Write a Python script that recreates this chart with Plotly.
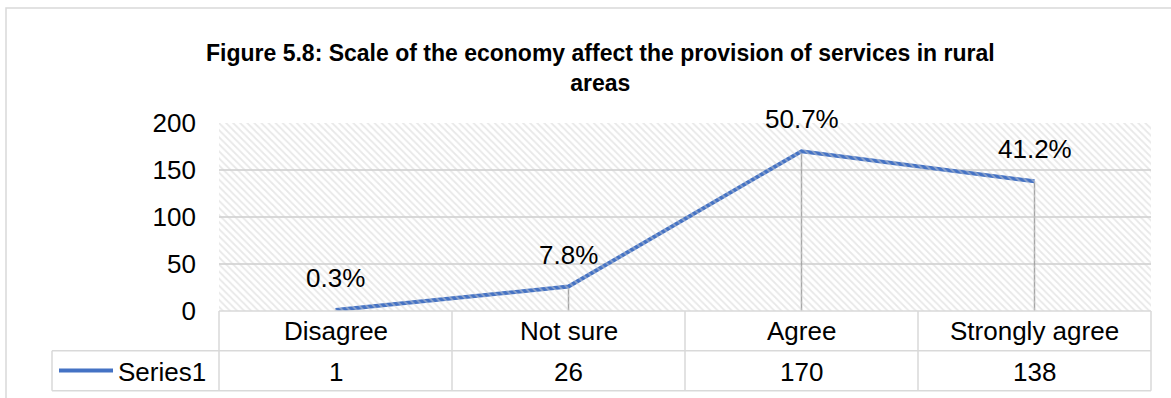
import plotly.graph_objects as go

# Survey responses
categories = ["Disagree", "Not sure", "Agree", "Strongly agree"]
counts = [1, 26, 170, 138]
percent_labels = ["0.3%", "7.8%", "50.7%", "41.2%"]
series_name = "Series1"
y_ticks = [0, 50, 100, 150, 200]
title_lines = ["Figure 5.8: Scale of the economy affect the provision of services in rural", "areas"]

W, H = 1171, 398
L, R, T, B = 219, 20, 123, 87
PW, PH = W - L - R, H - T - B


def px_x(px):
    return (px - L) / PW


def px_y(py):
    return (H - B - py) / PH


FONT = "Arial, Liberation Sans, sans-serif"
FS = 26
GRID = "#d9d9d9"
BLUE = "#4472C4"

fig = go.Figure()

# Hatched plot-area background
fig.add_trace(go.Scatter(
    x=[-0.5, 3.5, 3.5, -0.5, -0.5],
    y=[0, 0, 200, 200, 0],
    xaxis="x2", mode="lines", line=dict(width=0),
    fill="toself", fillcolor="rgba(0,0,0,0)",
    fillpattern=dict(shape="\\", fgcolor="#d2d2d2", bgcolor="rgba(0,0,0,0)",
                     size=5, solidity=0.35),
    hoverinfo="skip", showlegend=False,
))

# Drop lines from each point to the axis
drop_x, drop_y = [], []
for c, v in zip(categories, counts):
    drop_x += [c, c, None]
    drop_y += [0, v, None]
fig.add_trace(go.Scatter(
    x=drop_x, y=drop_y, mode="lines",
    line=dict(color="#a6a6a6", width=1.5),
    hoverinfo="skip", showlegend=False,
))

# Main series
fig.add_trace(go.Scatter(
    x=categories, y=counts, mode="lines",
    line=dict(color=BLUE, width=4),
    name=series_name, showlegend=False,
))

# Percentage labels above points
for c, v, p in zip(categories, counts, percent_labels):
    fig.add_annotation(x=c, y=v, text=p, showarrow=False, yshift=32,
                       yanchor="middle", font=dict(family=FONT, size=FS, color="#000"))

# Data table under the chart
row_sep = px_y(350.7)
row_bot = px_y(390.7)
left_cell = px_x(52)
shapes = []
line_style = dict(color=GRID, width=1.5)
# horizontal rules
shapes.append(dict(type="line", xref="paper", yref="paper", x0=0, x1=1, y0=0, y1=0, line=line_style))
shapes.append(dict(type="line", xref="paper", yref="paper", x0=left_cell, x1=1, y0=row_sep, y1=row_sep, line=line_style))
shapes.append(dict(type="line", xref="paper", yref="paper", x0=left_cell, x1=1, y0=row_bot, y1=row_bot, line=line_style))
# vertical rules
for i in range(len(categories) + 1):
    xv = i / len(categories)
    shapes.append(dict(type="line", xref="paper", yref="paper", x0=xv, x1=xv, y0=0, y1=row_bot, line=line_style))
shapes.append(dict(type="line", xref="paper", yref="paper", x0=left_cell, x1=left_cell, y0=row_sep, y1=row_bot, line=line_style))
# legend key
shapes.append(dict(type="line", xref="paper", yref="paper", x0=px_x(59), x1=px_x(113),
                   y0=px_y(370.5), y1=px_y(370.5), line=dict(color=BLUE, width=4)))
# outer chart border
shapes.append(dict(type="rect", xref="paper", yref="paper", x0=px_x(6), x1=px_x(1185),
                   y0=px_y(415), y1=px_y(8), line=dict(color=GRID, width=1.5), layer="below"))

for c, v in zip(categories, counts):
    fig.add_annotation(x=c, y=px_y(331), yref="paper", yanchor="middle", text=c, showarrow=False,
                       font=dict(family=FONT, size=FS, color="#000"))
    fig.add_annotation(x=c, y=px_y(372), yref="paper", yanchor="middle", text=str(v), showarrow=False,
                       font=dict(family=FONT, size=FS, color="#000"))
fig.add_annotation(x=px_x(116), y=px_y(372), xref="paper", yref="paper", text=series_name,
                   showarrow=False, xanchor="left", yanchor="middle",
                   font=dict(family=FONT, size=FS, color="#000"))

# Two-line bold title
fig.add_annotation(x=px_x(600), y=px_y(68), xref="paper", yref="paper",
                   text="<b>" + "<br>".join(title_lines) + "</b>", showarrow=False,
                   xanchor="center", yanchor="middle", align="center",
                   font=dict(family=FONT, size=23, color="#000"))

fig.update_layout(
    width=W, height=H,
    margin=dict(l=L, r=R, t=T, b=B, pad=0),
    paper_bgcolor="white", plot_bgcolor="white",
    xaxis=dict(type="category", categoryarray=categories, range=[-0.5, 3.5],
               showticklabels=False, showgrid=False, zeroline=False, showline=False),
    xaxis2=dict(range=[-0.5, 3.5], overlaying="x", visible=False),
    yaxis=dict(range=[0, 200], tickvals=y_ticks, showgrid=True, gridcolor=GRID, gridwidth=1.5,
               zeroline=False, showline=False, ticklabelstandoff=22,
               tickfont=dict(family=FONT, size=FS, color="#000")),
    shapes=shapes,
    showlegend=False,
)

fig.write_html("out.html")
